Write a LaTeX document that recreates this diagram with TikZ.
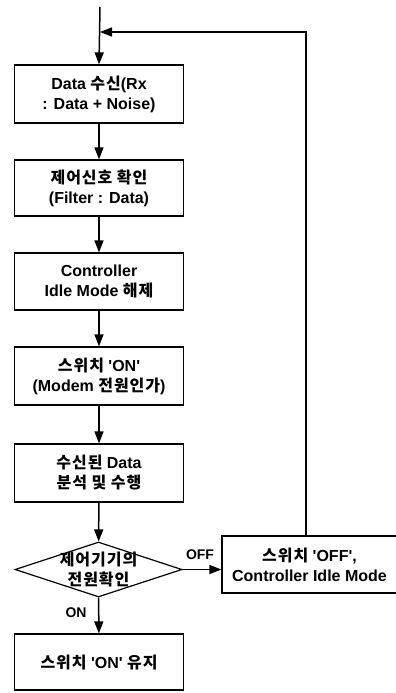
\documentclass[tikz,border=0pt]{standalone}
\usepackage{fontspec}
\setmainfont{Liberation Sans}
\newfontfamily\kr[LetterSpace=6]{Noto Sans CJK KR}
\usetikzlibrary{arrows.meta,shapes.geometric}
\newcommand{\q}{\textquotesingle}
\begin{document}
\begin{tikzpicture}[x=1pt,y=-1pt,
  line width=1.5pt,
  every node/.style={font=\fontsize{16}{20}\selectfont\bfseries},
  box/.style={draw, line width=1.2pt, minimum width=169pt, align=center, inner sep=0pt},
  arr/.style={-{Triangle[length=12pt,width=9pt]}},
  lab/.style={font=\fontsize{14}{16}\selectfont\bfseries}]
\useasboundingbox (0,0) rectangle (396,693);
\coordinate (top) at (100,7);
\coordinate (join) at (100,32);
\coordinate (fb) at (306,32);
\node[box, minimum height=58pt] (b1) at (99,94) {Data {\kr 수신}(Rx\\: Data + Noise)};
\node[box, minimum height=56pt] (b2) at (99,188) {{\kr 제어신호 확인}\\(Filter : Data)};
\node[box, minimum height=57pt] (b3) at (99,281.5) {Controller\\Idle Mode {\kr 해제}};
\node[box, minimum height=58pt] (b4) at (99,376) {{\kr 스위치} \q ON\q\\({Modem} {\kr 전원인가})};
\node[box, minimum height=58pt] (b5) at (99,473) {{\kr 수신된} Data\\{\kr 분석 및 수행}};
\node[diamond, draw, line width=1.2pt, minimum width=167pt, minimum height=55pt, inner sep=0pt] (d) at (98.5,569.5) {};
\node[align=center] (dt) at (d) {{\kr 제어기기의}\\{\kr 전원확인}};
\node[box, minimum width=175pt, minimum height=57pt] (b6) at (309.5,564.5) {{\kr 스위치} \q OFF\q,\\Controller Idle Mode};
\node[box, minimum height=56pt] (b7) at (99,662) {{\kr 스위치} \q ON\q\ {\kr 유지}};
\node[lab] (off) at (200,555) {OFF};
\node[lab] (on) at (76,613) {ON};
\draw[arr] (top) -- (b1.north);
\draw[arr] (b1) -- (b2);
\draw[arr] (b2) -- (b3);
\draw[arr] (b3) -- (b4);
\draw[arr] (b4) -- (b5);
\draw[arr] (b5) -- (d);
\draw[arr] (d) -- (b7);
\draw[arr] (d.east) -- (d.east -| b6.west);
\draw[arr] (b6.north -| fb) -- (fb) -- (join);
\end{tikzpicture}
\end{document}
